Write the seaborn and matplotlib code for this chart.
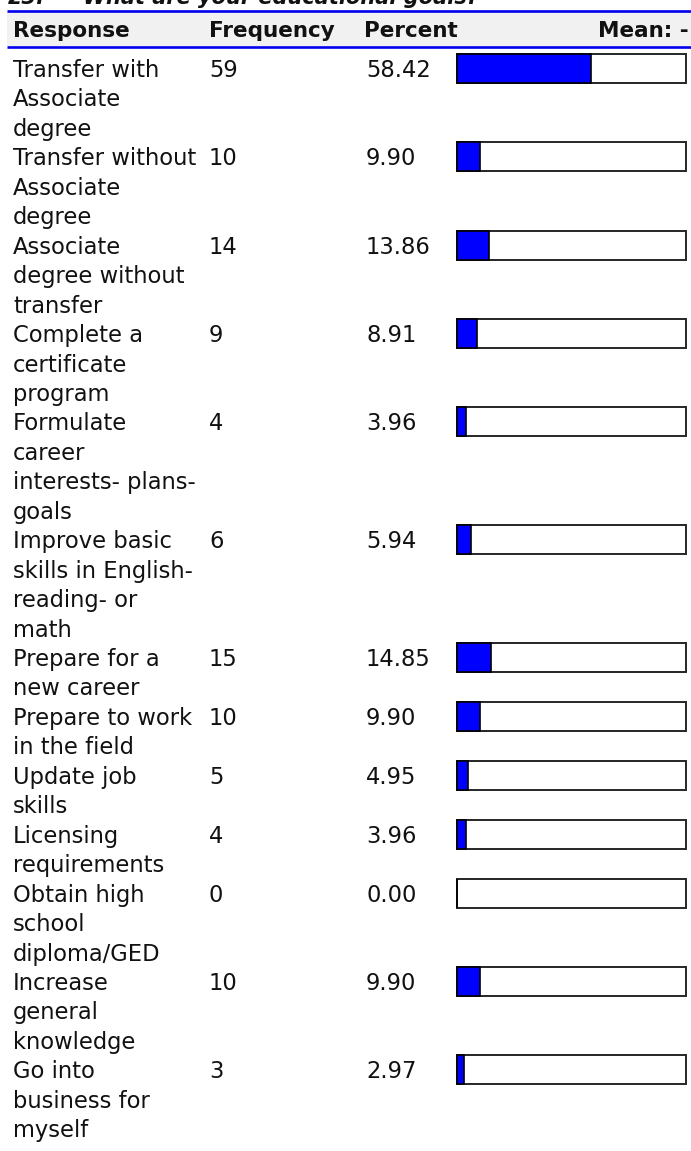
import numpy as np
import pandas as pd
import matplotlib
matplotlib.use("Agg")
import matplotlib.pyplot as plt
import seaborn as sns
from matplotlib.transforms import blended_transform_factory
from matplotlib.patches import Rectangle
from matplotlib.lines import Line2D

# ---------------- data ----------------
responses = [
    "Transfer with\nAssociate\ndegree",
    "Transfer without\nAssociate\ndegree",
    "Associate\ndegree without\ntransfer",
    "Complete a\ncertificate\nprogram",
    "Formulate\ncareer\ninterests- plans-\ngoals",
    "Improve basic\nskills in English-\nreading- or\nmath",
    "Prepare for a\nnew career",
    "Prepare to work\nin the field",
    "Update job\nskills",
    "Licensing\nrequirements",
    "Obtain high\nschool\ndiploma/GED",
    "Increase\ngeneral\nknowledge",
    "Go into\nbusiness for\nmyself",
]
frequencies = [59, 10, 14, 9, 4, 6, 15, 10, 5, 4, 0, 10, 3]
percents = ["58.42", "9.90", "13.86", "8.91", "3.96", "5.94", "14.85",
            "9.90", "4.95", "3.96", "0.00", "9.90", "2.97"]
header_labels = ["Response", "Frequency", "Percent", "Mean: -"]
title_number = "23."
title_text = "What are your educational goals?"

# ---------------- style ----------------
sns.set_style("white")
plt.rcParams["font.family"] = ["DejaVu Sans"]

W, H = 691, 1151
fig = plt.figure(figsize=(W / 100, H / 100), dpi=100)
fig.patch.set_facecolor("white")


def fx(px):
    return px / W


def fy(py):
    return 1 - py / H


# ---------------- row layout (in text-line units) ----------------
line_counts = [len(r.split("\n")) for r in responses]
starts = np.concatenate([[0], np.cumsum(line_counts)[:-1]]).astype(float)
LINE = 29.45      # px per text line
FIRST = 68.5      # px centre of first line
TOP, BOT = 49, H  # axes pixel extent
BAR_PX = 29

ax = fig.add_axes([fx(457), fy(BOT), fx(686) - fx(457), (BOT - TOP) / H])

df = pd.DataFrame({
    "row": starts,
    "pct": [float(p) for p in percents],
    "full": 100.0,
})
width = (BAR_PX / LINE) / np.min(np.diff(starts))

sns.barplot(data=df, x="full", y="row", orient="y", native_scale=True,
            width=width, color="white", saturation=1, errorbar=None,
            edgecolor="#262626", linewidth=1.4, ax=ax)
sns.barplot(data=df, x="pct", y="row", orient="y", native_scale=True,
            width=width, color="#0000ff", saturation=1, errorbar=None,
            edgecolor="#000000", linewidth=1.2, ax=ax)
for p in ax.patches:
    p.set_clip_on(False)

ax.set_xlim(0, 100)
ax.set_ylim((BOT - FIRST) / LINE, (TOP - FIRST) / LINE)
ax.axis("off")

# ---------------- table text ----------------
trans = blended_transform_factory(fig.transFigure, ax.transData)
BASE = 8.5 / LINE
FS = 16.3
TC = "#111111"
for i, resp in enumerate(responses):
    for j, ln in enumerate(resp.split("\n")):
        ax.text(fx(13), starts[i] + j + BASE, ln, transform=trans,
                va="baseline", ha="left", fontsize=FS, color=TC)
    ax.text(fx(209), starts[i] + BASE, str(frequencies[i]), transform=trans,
            va="baseline", ha="left", fontsize=FS, color=TC)
    ax.text(fx(366), starts[i] + BASE, percents[i], transform=trans,
            va="baseline", ha="left", fontsize=FS, color=TC)

# ---------------- header ----------------
fig.add_artist(Rectangle((fx(7), fy(46)), fx(691) - fx(7), 34 / H,
                         transform=fig.transFigure, facecolor="#f1f1f1",
                         edgecolor="none", zorder=0))
for ypx in (10.8, 47.4):
    fig.add_artist(Line2D([fx(7), 1], [fy(ypx), fy(ypx)],
                          transform=fig.transFigure, color="#0000ee",
                          linewidth=1.9, solid_capstyle="butt"))

HFS = 15.5
fig.text(fx(13), fy(37), header_labels[0], fontsize=HFS, fontweight="bold",
         va="baseline", ha="left", color=TC)
fig.text(fx(209), fy(37), header_labels[1], fontsize=HFS, fontweight="bold",
         va="baseline", ha="left", color=TC)
fig.text(fx(364), fy(37), header_labels[2], fontsize=HFS, fontweight="bold",
         va="baseline", ha="left", color=TC)
fig.text(fx(689), fy(37), header_labels[3], fontsize=HFS, fontweight="bold",
         va="baseline", ha="right", color=TC)

# title, mostly cut off at the top edge (as in the reference)
fig.text(fx(8), fy(4), title_number, fontsize=15, fontweight="bold",
         fontstyle="italic", va="baseline", ha="left", color=TC)
fig.text(fx(83), fy(4), title_text, fontsize=15, fontweight="bold",
         fontstyle="italic", va="baseline", ha="left", color=TC)

fig.savefig("out.png", dpi=100, facecolor="white")
